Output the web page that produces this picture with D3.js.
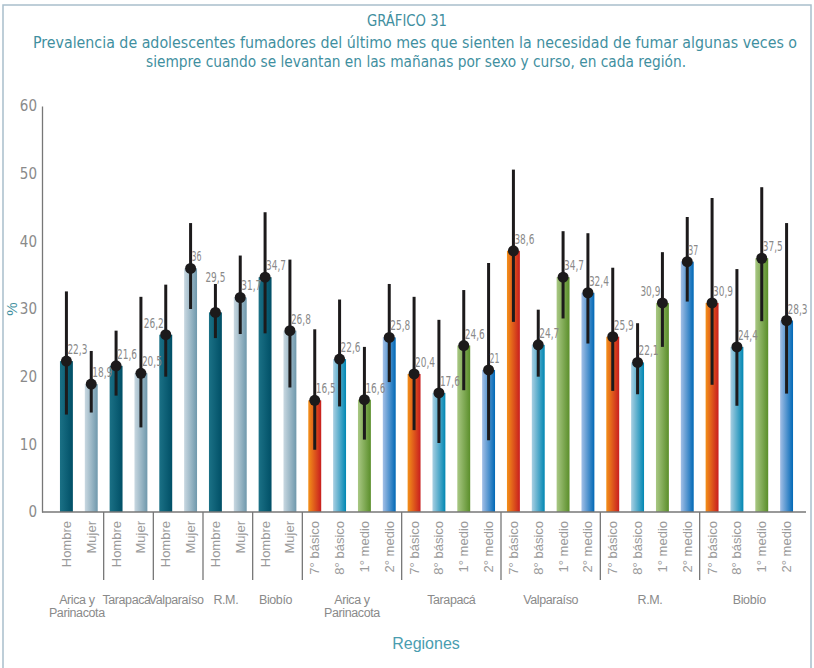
<!DOCTYPE html>
<html>
<head>
<meta charset="utf-8">
<style>
  body { margin: 0; background: #fff; }
  svg { display: block; }
</style>
</head>
<body>
<svg width="814" height="668"></svg>
<script src="https://d3js.org/d3.v7.min.js"></script>
<script>

// bar labels (one per bar)
var categories = ["Hombre", "Mujer", "Hombre", "Mujer", "Hombre", "Mujer", "Hombre", "Mujer", "Hombre", "Mujer",
  "7° básico", "8° básico", "1° medio", "2° medio",
  "7° básico", "8° básico", "1° medio", "2° medio",
  "7° básico", "8° básico", "1° medio", "2° medio",
  "7° básico", "8° básico", "1° medio", "2° medio",
  "7° básico", "8° básico", "1° medio", "2° medio"];

var groupNames = ["Arica y\nParinacota", "Tarapacá", "Valparaíso", "R.M.", "Biobío",
  "Arica y\nParinacota", "Tarapacá", "Valparaíso", "R.M.", "Biobío"];
var groupSizes = [2, 2, 2, 2, 2, 4, 4, 4, 4, 4];

var values = [22.3, 18.9, 21.6, 20.5, 26.2, 36, 29.5, 31.7, 34.7, 26.8,
  16.5, 22.6, 16.6, 25.8,
  20.4, 17.6, 24.6, 21,
  38.6, 24.7, 34.7, 32.4,
  25.9, 22.1, 30.9, 37,
  30.9, 24.4, 37.5, 28.3];

var lower = [14.4, 14.7, 17.2, 12.5, 20.0, 30.0, 25.7, 26.3, 26.4, 18.4,
  9.2, 15.6, 10.7, 19.2,
  12.1, 10.2, 18.0, 10.6,
  28.1, 20.0, 28.6, 24.9,
  17.9, 17.4, 24.4, 31.1,
  18.8, 15.7, 28.2, 17.5];

var upper = [32.6, 23.8, 26.8, 31.8, 33.6, 42.7, 33.7, 37.9, 44.3, 37.3,
  27.0, 31.4, 24.4, 33.7,
  31.8, 28.4, 32.8, 36.8,
  50.6, 29.9, 41.5, 41.2,
  36.1, 27.9, 38.4, 43.6,
  46.4, 35.9, 48.0, 42.7];

var yTicks = [0, 10, 20, 30, 40, 50, 60];

var svg = d3.select("svg");
var teal = "#3f8fa0", grey = "#8a8a8a";
var condensed = "'DejaVu Sans Condensed', 'Liberation Sans Narrow', sans-serif";

// frame
svg.append("rect")
    .attr("x", 3).attr("y", 5).attr("width", 808).attr("height", 680)
    .attr("fill", "none").attr("stroke", "#a9bfcc").attr("stroke-width", 1.5);

// title
svg.append("text").attr("x", 407).attr("y", 26).attr("text-anchor", "middle")
    .attr("fill", teal).style("font", "15px " + condensed)
    .attr("textLength", 80).attr("lengthAdjust", "spacingAndGlyphs")
    .text("GRÁFICO 31");
svg.append("text").attr("x", 415).attr("y", 48).attr("text-anchor", "middle")
    .attr("fill", teal).style("font", "16px " + condensed)
    .attr("textLength", 764).attr("lengthAdjust", "spacingAndGlyphs")
    .text("Prevalencia de adolescentes fumadores del último mes que sienten la necesidad de fumar algunas veces o");
svg.append("text").attr("x", 416).attr("y", 67).attr("text-anchor", "middle")
    .attr("fill", teal).style("font", "16px " + condensed)
    .attr("textLength", 540).attr("lengthAdjust", "spacingAndGlyphs")
    .text("siempre cuando se levantan en las mañanas por sexo y curso, en cada región.");

// gradients per bar kind
var kinds = {
  "Hombre":    ["#1b7186", "#004f66"],
  "Mujer":     ["#c9d8e1", "#6f98ac"],
  "7° básico": ["#f39019", "#c81e1e"],
  "8° básico": ["#a9cfe2", "#0087b3"],
  "1° medio":  ["#a9c884", "#5a8e2a"],
  "2° medio":  ["#a3bfe6", "#0068b6"]
};
var defs = svg.append("defs");
Object.keys(kinds).forEach(function(k, i) {
  var g = defs.append("linearGradient").attr("id", "grad" + i)
      .attr("x1", "0%").attr("x2", "100%").attr("y1", "0%").attr("y2", "0%");
  g.append("stop").attr("offset", "0%").attr("stop-color", kinds[k][0]);
  g.append("stop").attr("offset", "100%").attr("stop-color", kinds[k][1]);
  kinds[k].id = "url(#grad" + i + ")";
});

var left = 42, right = 806;

var x = d3.scaleBand()
    .domain(d3.range(categories.length))
    .range([54, 799])
    .paddingInner(0.48)
    .paddingOuter(0.24);

var y = d3.scaleLinear()
    .domain([0, 60])
    .range([512, 106]);

// y axis
var yAxis = svg.append("g")
    .attr("transform", "translate(" + left + ",0)")
    .call(d3.axisLeft(y).tickValues(yTicks).tickSize(0).tickPadding(5));
yAxis.select(".domain").attr("stroke", "#777").attr("stroke-width", 1.3);
yAxis.selectAll("text").attr("fill", grey).style("font", "15px " + condensed);

svg.append("text")
    .attr("transform", "translate(17," + y(30) + ") rotate(-90)")
    .attr("text-anchor", "middle")
    .attr("fill", teal).style("font", "15px 'Liberation Sans', sans-serif")
    .text("%");

// bars
var data = values.map(function(v, i) {
  return {i: i, v: v, lo: lower[i], hi: upper[i], kind: categories[i]};
});

svg.append("g").selectAll("rect")
  .data(data)
  .join("rect")
    .attr("x", function(d) { return x(d.i); })
    .attr("y", function(d) { return y(d.v); })
    .attr("width", x.bandwidth())
    .attr("height", function(d) { return y(0) - y(d.v); })
    .attr("fill", function(d) { return kinds[d.kind].id; });

// x axis line
svg.append("line")
    .attr("x1", left).attr("x2", right)
    .attr("y1", y(0)).attr("y2", y(0))
    .attr("stroke", "#777").attr("stroke-width", 1.3);

// error bars
var err = svg.append("g");
err.selectAll("line")
  .data(data)
  .join("line")
    .attr("x1", function(d) { return x(d.i) + x.bandwidth() / 2; })
    .attr("x2", function(d) { return x(d.i) + x.bandwidth() / 2; })
    .attr("y1", function(d) { return y(d.hi); })
    .attr("y2", function(d) { return y(d.lo); })
    .attr("stroke", "#1c1a1b").attr("stroke-width", 3);
err.selectAll("circle")
  .data(data)
  .join("circle")
    .attr("cx", function(d) { return x(d.i) + x.bandwidth() / 2; })
    .attr("cy", function(d) { return y(d.v); })
    .attr("r", 5.5)
    .attr("fill", "#1c1a1b");

// value labels (a few sit left of the dot, one above its error bar)
var anchorEnd = [4, 24], anchorTop = [6];
svg.append("g").selectAll("text")
  .data(data)
  .join("text")
    .attr("x", function(d) {
      var cx = x(d.i) + x.bandwidth() / 2;
      if (anchorEnd.indexOf(d.i) >= 0) return cx - 2;
      if (anchorTop.indexOf(d.i) >= 0) return cx;
      return cx + 1;
    })
    .attr("y", function(d) {
      if (anchorTop.indexOf(d.i) >= 0) return y(d.hi) - 2;
      return y(d.v) - 7;
    })
    .attr("text-anchor", function(d) {
      if (anchorEnd.indexOf(d.i) >= 0) return "end";
      if (anchorTop.indexOf(d.i) >= 0) return "middle";
      return "start";
    })
    .attr("fill", grey)
    .attr("textLength", function(d) { return String(d.v).length * 5; })
    .attr("lengthAdjust", "spacingAndGlyphs")
    .style("font", "14px " + condensed)
    .text(function(d) { return String(d.v).replace(".", ","); });

// category tick labels
var xAxis = svg.append("g")
    .attr("transform", "translate(0," + y(0) + ")")
    .call(d3.axisBottom(x).tickSize(0).tickFormat(function(i) { return categories[i]; }));
xAxis.select(".domain").remove();
xAxis.selectAll("text")
    .attr("transform", "rotate(-90)")
    .attr("x", -9).attr("y", 0).attr("dy", "0.35em")
    .attr("text-anchor", "end")
    .attr("fill", "#9a9a9a")
    .style("font", "13px 'Liberation Sans', sans-serif");

// group separators and names
var start = 0;
groupSizes.forEach(function(n, gi) {
  var first = start, last = start + n - 1;
  var step = x.step();
  var x0 = x(first) - (step - x.bandwidth()) / 2;
  var x1 = x(last) + x.bandwidth() + (step - x.bandwidth()) / 2;
  if (gi < groupSizes.length - 1) {
    svg.append("line")
        .attr("x1", x1).attr("x2", x1)
        .attr("y1", y(0)).attr("y2", y(0) + 68)
        .attr("stroke", "#777").attr("stroke-width", 1.3);
  }
  var lines = groupNames[gi].split("\n");
  var t = svg.append("text")
      .attr("x", (x0 + x1) / 2).attr("y", 604)
      .attr("text-anchor", "middle")
      .attr("fill", grey)
      .style("font", "12.5px 'Liberation Sans', sans-serif")
      .style("letter-spacing", "-0.4px");
  lines.forEach(function(s, li) {
    t.append("tspan").attr("x", (x0 + x1) / 2 - (n === 2 ? 2 : 0)).attr("dy", li ? 13 : 0).text(s);
  });
  start += n;
});

svg.append("text")
    .attr("x", 426).attr("y", 649)
    .attr("text-anchor", "middle")
    .attr("fill", "#4a9db0")
    .style("font", "16px 'Liberation Sans', sans-serif")
    .text("Regiones");

</script>
</body>
</html>
